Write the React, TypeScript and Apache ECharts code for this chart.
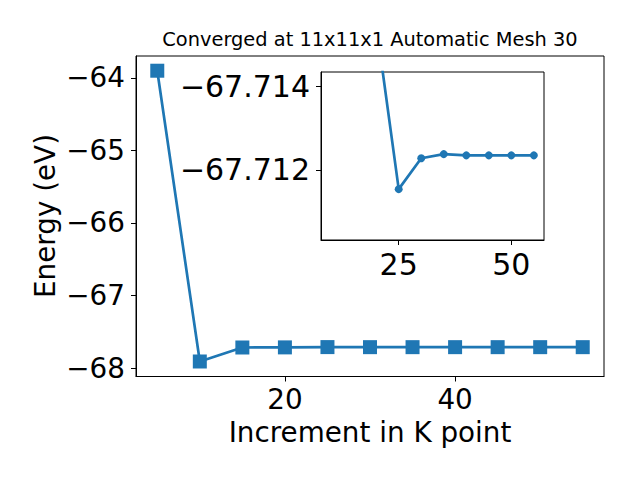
import React, { useEffect, useRef } from "react";
import * as echarts from "echarts";

const kPoints = [5, 10, 15, 20, 25, 30, 35, 40, 45, 50, 55];
const energies = [-63.9, -67.91, -67.717, -67.7155, -67.71154, -67.71228, -67.71238, -67.71235, -67.71235, -67.71235, -67.71235];
const mainXTicks = [20, 40];
const mainYTicks = [-64, -65, -66, -67, -68];
const insetXTicks = [25, 50];
const insetYTicks = [-67.714, -67.712];

const titleText = "Converged at 11x11x1 Automatic Mesh 30";
const xName = "Increment in K point";
const yName = "Energy (eV)";

const BLUE = "#1f77b4";
const FONT = "DejaVu Sans";
const minus = (s: string) => s.replace("-", "\u2212");

export default function App() {
  const ref = useRef<HTMLDivElement>(null);
  useEffect(() => {
    if (!ref.current) return;
    const chart = echarts.init(ref.current, undefined, { renderer: "svg" });
    const mainData = kPoints.map((k, i) => [k, energies[i]]);
    const insetData = kPoints.slice(1).map((k, i) => [k, energies[i + 1]]);
    const axisLine = { show: true, lineStyle: { color: "#000", width: 1 } };
    const tick = (vals: number[]) => ({ show: true, length: 5, customValues: vals, lineStyle: { color: "#000", width: 1 } });
    const label = (vals: number[], margin: number, digits: number, size: number) => ({
      show: true,
      customValues: vals,
      margin,
      color: "#000",
      fontFamily: FONT,
      fontSize: size,
      formatter: (v: number) => minus(v.toFixed(digits)),
    });
    chart.setOption({
      animation: false,
      backgroundColor: "#fff",
      grid: [
        { left: 136, top: 56, width: 468, height: 320.5, show: true, borderColor: "#000", borderWidth: 1, backgroundColor: "#fff" },
        { left: 321, top: 72, width: 223, height: 168, show: true, borderColor: "#000", borderWidth: 1, backgroundColor: "#fff", z: 5 },
      ],
      xAxis: [
        { type: "value", gridIndex: 0, min: 2.5, max: 57.5, axisLine, axisTick: tick(mainXTicks), axisLabel: label(mainXTicks, 9, 0, 27.8), splitLine: { show: false } },
        { type: "value", gridIndex: 1, min: 7.75, max: 57.25, axisLine, axisTick: tick(insetXTicks), axisLabel: label(insetXTicks, 9, 0, 30), splitLine: { show: false }, z: 5 },
      ],
      yAxis: [
        { type: "value", gridIndex: 0, min: -68.117, max: -63.697, axisLine, axisTick: tick(mainYTicks), axisLabel: label(mainYTicks, 11, 0, 27.8), splitLine: { show: false } },
        { type: "value", gridIndex: 1, inverse: true, min: -67.71435, max: -67.71032, axisLine, axisTick: tick(insetYTicks), axisLabel: label(insetYTicks, 11, 3, 30), splitLine: { show: false }, z: 5 },
      ],
      series: [
        { type: "line", xAxisIndex: 0, yAxisIndex: 0, data: mainData, symbol: "rect", symbolSize: 14, showAllSymbol: true, itemStyle: { color: BLUE }, lineStyle: { color: BLUE, width: 2.7 }, z: 2 },
        { type: "line", xAxisIndex: 1, yAxisIndex: 1, data: insetData, clip: true, symbol: "circle", symbolSize: 8, showAllSymbol: true, itemStyle: { color: BLUE }, lineStyle: { color: BLUE, width: 2.7 }, z: 6 },
      ],
      graphic: [
        { type: "text", x: 370, y: 39.5, style: { text: titleText, font: `19.4px ${FONT}`, fill: "#000", textAlign: "center", textVerticalAlign: "middle" } },
        { type: "text", x: 370, y: 432, style: { text: xName, font: `27.8px ${FONT}`, fill: "#000", textAlign: "center", textVerticalAlign: "middle" } },
        { type: "text", x: 45, y: 216, rotation: Math.PI / 2, style: { text: yName, font: `27.8px ${FONT}`, fill: "#000", textAlign: "center", textVerticalAlign: "middle" } },
      ],
    });
    return () => chart.dispose();
  }, []);
  return <div ref={ref} style={{ position: "fixed", left: 0, top: 0, width: 640, height: 480 }} />;
}
